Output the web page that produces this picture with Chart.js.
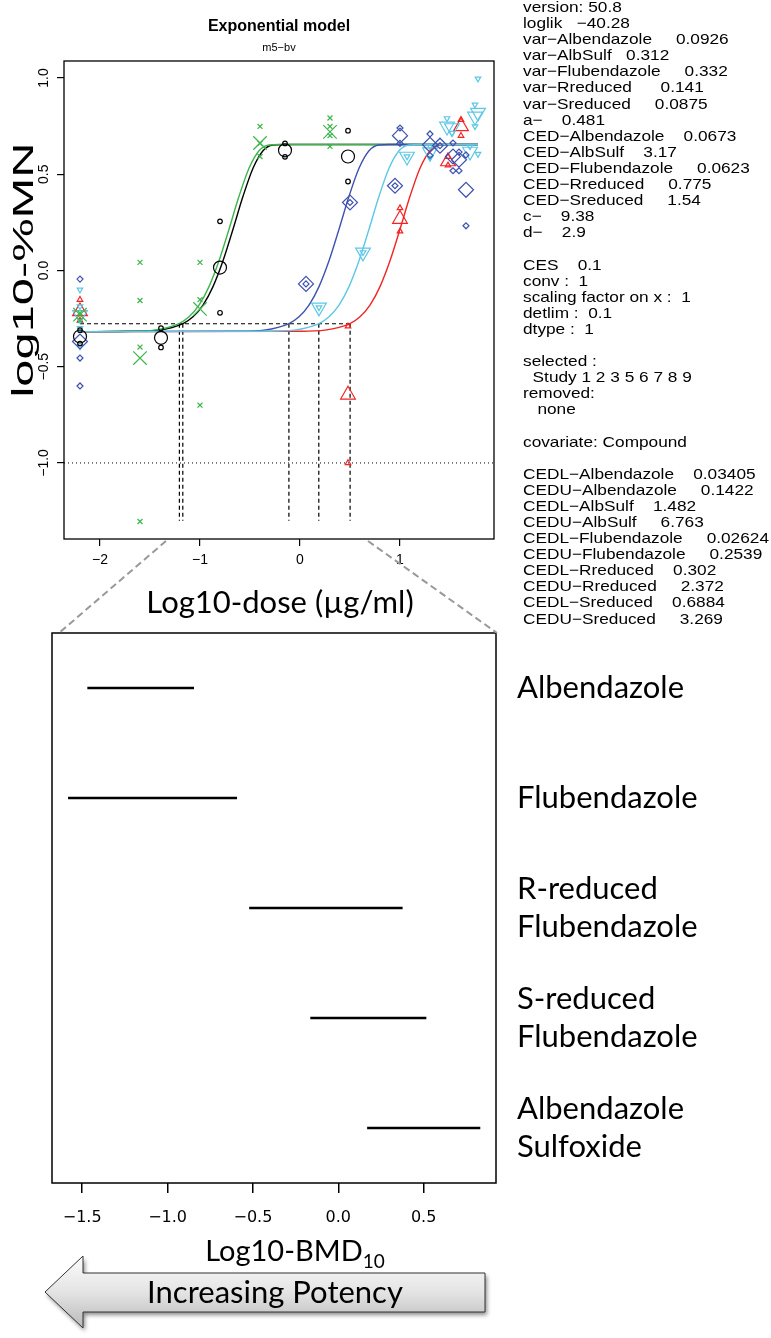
<!DOCTYPE html>
<html>
<head>
<meta charset="utf-8">
<script src="https://cdn.jsdelivr.net/npm/chart.js@4.4.1/dist/chart.umd.min.js"></script>
<style>
  html, body { margin: 0; padding: 0; background: #fff; }
  body { width: 771px; height: 1338px; position: relative; overflow: hidden; }
  #doseCanvas { position: absolute; left: 0; top: 0; }
  #bmdCanvas { position: absolute; left: 0; top: 600px; }
  #info {
    position: absolute; left: 523px; top: -1px;
    font: 15px "Liberation Sans", Arial, sans-serif; line-height: 16.1px;
    white-space: pre; color: #000;
    transform: scaleX(1.15); transform-origin: 0 0;
  }
  #links { position: absolute; left: 0; top: 0; pointer-events: none; }
</style>
</head>
<body>
<canvas id="doseCanvas" width="515" height="625"></canvas>
<canvas id="bmdCanvas" width="771" height="738"></canvas>
<div id="info"></div>
<svg id="links" width="771" height="1338">
  <line x1="166" y1="541" x2="59" y2="633" stroke="#999" stroke-width="2" stroke-dasharray="7 4"/>
  <line x1="368" y1="541" x2="497" y2="633" stroke="#999" stroke-width="2" stroke-dasharray="7 4"/>
</svg>
<script>
// ---- top panel: dose-response (log10 dose vs log10 %MN) ----
const xTicks = [-2, -1, 0, 1];
const xTickLabels = ["\u22122", "\u22121", "0", "1"];
const yTicks = [-1, -0.5, 0, 0.5, 1];
const yTickLabels = ["\u22121.0", "\u22120.5", "0.0", "0.5", "1.0"];

// Albendazole (black circles)
const albDose = [-2.2, -1.39, -0.8, -0.15, 0.48];
const albMean = [-0.343, -0.35, 0.015, 0.624, 0.592];
const albObs = [[-0.31, -0.38], [-0.30, -0.40], [0.255, -0.22], [0.66, 0.59], [0.726, 0.462]];
// Flubendazole (green crosses)
const flubDose = [-2.2, -1.6, -1.0, -0.4, 0.3];
const flubMean = [-0.23, -0.455, -0.20, 0.662, 0.72];
const flubObs = [[-0.22, -0.26], [0.042, -0.156, -0.398, -1.304], [0.042, -0.152, -0.70], [0.748, 0.66, 0.592], [0.792, 0.748, 0.70, 0.644]];
// R-reduced (blue diamonds)
const rredDose = [-2.2, 0.06, 0.5, 0.95, 1.0, 1.30, 1.40, 1.53, 1.59, 1.66];
const rredMean = [-0.369, -0.07, 0.353, 0.44, 0.70, 0.653, 0.648, 0.592, 0.575, 0.419];
const rredObs = [[-0.045, -0.455, -0.60], [-0.07], [0.353], [0.44], [0.74, 0.66], [0.709, 0.597], [0.648], [0.662, 0.518], [0.615, 0.518], [0.60, 0.232]];
// S-reduced (cyan down triangles)
const sredDose = [-2.2, 0.19, 0.63, 1.07, 1.30, 1.47, 1.52, 1.70, 1.75, 1.78];
const sredMean = [-0.23, -0.192, 0.094, 0.592, 0.615, 0.748, 0.74, 0.618, 0.80, 0.82];
const sredObs = [[-0.10, -0.187, -0.30, -0.395], [-0.192], [0.094], [0.592], [0.584, 0.645], [0.79], [0.714], [0.644], [0.861, 0.748], [0.996, 0.605]];
// Albendazole sulfoxide (red up triangles)
const sulfDose = [-2.2, 0.48, 1.0, 1.48, 1.61];
const sulfMean = [-0.213, -0.646, 0.267, 0.566, 0.748];
const sulfObs = [[-0.152, -0.26], [-0.29, -1.0], [0.324, 0.203], [0.546, 0.59], [0.783, 0.70]];

// fitted curves
const curveY = [-0.318, -0.316, -0.310, -0.276, -0.241, -0.180, -0.084, 0.050, 0.214, 0.385, 0.531, 0.622, 0.652, 0.654, 0.654];
const albCurveX = [-2.2, -1.67, -1.42, -1.17, -1.07, -0.97, -0.87, -0.77, -0.67, -0.57, -0.47, -0.37, -0.27, -0.17, 1.78];
const flubCurveX = [-2.2, -1.71, -1.46, -1.21, -1.11, -1.01, -0.91, -0.81, -0.71, -0.61, -0.51, -0.41, -0.31, -0.21, 1.78];
const rredCurveX = [-2.2, -0.61, -0.36, -0.11, -0.01, 0.09, 0.19, 0.29, 0.39, 0.49, 0.59, 0.69, 0.79, 0.89, 1.78];
const sredCurveX = [-2.2, -0.31, -0.06, 0.19, 0.29, 0.39, 0.49, 0.59, 0.69, 0.79, 0.89, 0.99, 1.09, 1.19, 1.78];
const sulfCurveX = [-2.2, 0.0, 0.25, 0.50, 0.60, 0.70, 0.80, 0.90, 1.00, 1.10, 1.20, 1.30, 1.40, 1.50, 1.78];

// CED markers
const cedLog = [-1.172, 0.501, -1.206, -0.111, 0.188];
const cesLevel = -0.277;
const dropBottom = -1.30;
const detLevel = -1.0;

// ---- bottom panel: BMD intervals ----
const compounds = [["Albendazole"], ["Flubendazole"], ["R-reduced", "Flubendazole"], ["S-reduced", "Flubendazole"], ["Albendazole", "Sulfoxide"]];
const bmdLow = [-1.468, -1.581, -0.520, -0.162, 0.171];
const bmdHigh = [-0.847, -0.595, 0.375, 0.514, 0.830];
const bmdTicks = [-1.5, -1.0, -0.5, 0.0, 0.5];
const bmdTickLabels = ["\u22121.5", "\u22121.0", "\u22120.5", "0.0", "0.5"];

const modelInfo = [
  "version: 50.8",
  "loglik   \u221240.28",
  "var\u2212Albendazole     0.0926",
  "var\u2212AlbSulf   0.312",
  "var\u2212Flubendazole     0.332",
  "var\u2212Rreduced      0.141",
  "var\u2212Sreduced     0.0875",
  "a\u2212    0.481",
  "CED\u2212Albendazole    0.0673",
  "CED\u2212AlbSulf    3.17",
  "CED\u2212Flubendazole     0.0623",
  "CED\u2212Rreduced     0.775",
  "CED\u2212Sreduced     1.54",
  "c\u2212    9.38",
  "d\u2212    2.9",
  "",
  "CES    0.1",
  "conv :  1",
  "scaling factor on x :  1",
  "detlim :  0.1",
  "dtype :  1",
  "",
  "selected :",
  "  Study 1 2 3 5 6 7 8 9",
  "removed:",
  "   none",
  "",
  "covariate: Compound",
  "",
  "CEDL\u2212Albendazole    0.03405",
  "CEDU\u2212Albendazole     0.1422",
  "CEDL\u2212AlbSulf    1.482",
  "CEDU\u2212AlbSulf     6.763",
  "CEDL\u2212Flubendazole     0.02624",
  "CEDU\u2212Flubendazole     0.2539",
  "CEDL\u2212Rreduced    0.302",
  "CEDU\u2212Rreduced     2.372",
  "CEDL\u2212Sreduced    0.6884",
  "CEDU\u2212Sreduced     3.269"
];
document.getElementById("info").textContent = modelInfo.join("\n");

const BLACK = "#000000", GREEN = "#3cb54b", BLUE = "#3f51b0", CYAN = "#5cc8e6", RED = "#f22424";

function obsPoints(dose, obs) {
  return dose.flatMap((d, i) => obs[i].map(v => ({ x: d, y: v })));
}
function meanPoints(dose, mean) {
  return dose.map((d, i) => ({ x: d, y: mean[i] }));
}
function curvePoints(xs) {
  return xs.map((x, i) => ({ x: x, y: curveY[i] }));
}
function curve(xs, color, order) {
  return { type: "line", data: curvePoints(xs), borderColor: color, borderWidth: 1.4,
    pointRadius: 0, fill: false, cubicInterpolationMode: "monotone", order: order };
}
function marks(data, color, style, r, rot) {
  return { type: "scatter", data: data, pointStyle: style, pointRadius: r, pointRotation: rot || 0,
    pointBorderColor: color, pointBackgroundColor: "rgba(0,0,0,0)", pointBorderWidth: 1.2,
    showLine: false, order: 0 };
}

const doseDecor = {
  id: "doseDecor",
  afterDraw(chart) {
    const { ctx, chartArea: a, scales } = chart;
    ctx.save();
    ctx.strokeStyle = "#000"; ctx.lineWidth = 1.3;
    ctx.strokeRect(a.left, a.top, a.right - a.left, a.bottom - a.top);
    ctx.fillStyle = "#000";
    ctx.textAlign = "center"; ctx.textBaseline = "middle";
    const cx = (a.left + a.right) / 2;
    ctx.font = 'bold 16px "Liberation Sans"';
    ctx.fillText("Exponential model", cx, 27);
    ctx.font = '11px "Liberation Sans"';
    ctx.fillText("m5\u2212bv", cx, 48);
    // y tick labels, rotated like R
    ctx.font = '14px "Liberation Sans"';
    scales.y.ticks.forEach((t, i) => {
      ctx.save();
      ctx.translate(44, scales.y.getPixelForValue(t.value));
      ctx.rotate(-Math.PI / 2);
      ctx.fillText(yTickLabels[i], 0, 0);
      ctx.restore();
    });
    // axis titles
    ctx.save();
    ctx.translate(25, 270);
    ctx.rotate(-Math.PI / 2);
    ctx.font = '30px "Liberation Sans"';
    const w = ctx.measureText("log10-%MN").width;
    ctx.scale(255 / w, 1);
    ctx.fillText("log10-%MN", 0, 0);
    ctx.restore();
    ctx.font = '31px Lato';
    ctx.fillText("Log10-dose (\u00b5g/ml)", 280, 603);
    ctx.restore();
  }
};

new Chart(document.getElementById("doseCanvas"), {
  type: "scatter",
  data: {
    datasets: [
      marks(obsPoints(albDose, albObs), BLACK, "circle", 2.3),
      marks(meanPoints(albDose, albMean), BLACK, "circle", 6.5),
      marks(obsPoints(flubDose, flubObs), GREEN, "crossRot", 3.5),
      marks(meanPoints(flubDose, flubMean), GREEN, "crossRot", 9.5),
      marks(obsPoints(rredDose, rredObs), BLUE, "rectRot", 3),
      marks(meanPoints(rredDose, rredMean), BLUE, "rectRot", 7.5),
      marks(obsPoints(sredDose, sredObs), CYAN, "triangle", 3.2, 180),
      marks(meanPoints(sredDose, sredMean), CYAN, "triangle", 8.5, 180),
      marks(obsPoints(sulfDose, sulfObs), RED, "triangle", 3.2),
      marks(meanPoints(sulfDose, sulfMean), RED, "triangle", 8.5),
      curve(sredCurveX, CYAN, 1),
      curve(rredCurveX, BLUE, 2),
      curve(flubCurveX, GREEN, 3),
      curve(sulfCurveX, RED, 4),
      curve(albCurveX, BLACK, 5),
      { type: "line", data: [{ x: -2.2, y: cesLevel }, { x: Math.max(...cedLog), y: cesLevel }],
        borderColor: "#000", borderWidth: 1.2, borderDash: [4, 3], pointRadius: 0, order: 6 },
      { type: "line", data: cedLog.flatMap(c => [{ x: c, y: cesLevel }, { x: c, y: dropBottom }, { x: c, y: null }]),
        borderColor: "#000", borderWidth: 1.2, borderDash: [4, 3], pointRadius: 0, spanGaps: false, order: 6 },
      { type: "line", data: [{ x: -2.36, y: detLevel }, { x: 1.94, y: detLevel }],
        borderColor: "#000", borderWidth: 1, borderDash: [1, 3], pointRadius: 0, order: 6 }
    ]
  },
  options: {
    responsive: false, animation: false,
    layout: { padding: { left: 0, right: 21, top: 61, bottom: 0 } },
    plugins: { legend: { display: false }, tooltip: { enabled: false } },
    scales: {
      x: {
        type: "linear", min: -2.36, max: 1.94,
        afterBuildTicks: s => { s.ticks = xTicks.map(v => ({ value: v })); },
        afterFit: s => { s.height = 86; },
        grid: { drawOnChartArea: false, tickLength: 7, color: "#000", lineWidth: 1.2 },
        border: { display: false },
        ticks: { color: "#000", font: { family: "Liberation Sans", size: 14 }, padding: 6,
          callback: (v, i) => xTickLabels[i] }
      },
      y: {
        type: "linear", min: -1.395, max: 1.088,
        afterBuildTicks: s => { s.ticks = yTicks.map(v => ({ value: v })); },
        afterFit: s => { s.width = 64; },
        grid: { drawOnChartArea: false, tickLength: 7, color: "#000", lineWidth: 1.2 },
        border: { display: false },
        ticks: { display: false }
      }
    }
  },
  plugins: [doseDecor]
});

// ---- bottom chart ----
const bmdDecor = {
  id: "bmdDecor",
  afterDraw(chart) {
    const { ctx, chartArea: a } = chart;
    ctx.save();
    ctx.strokeStyle = "#000"; ctx.lineWidth = 1.5;
    ctx.strokeRect(a.left, a.top, a.right - a.left, a.bottom - a.top);
    // axis title with subscript
    ctx.fillStyle = "#000";
    ctx.textBaseline = "middle"; ctx.textAlign = "left";
    ctx.font = '29px Lato';
    const main = "Log10-BMD";
    const mw = ctx.measureText(main).width;
    ctx.font = '19px Lato';
    const sw = ctx.measureText("10").width;
    const x0 = 295 - (mw + sw) / 2;
    ctx.font = '29px Lato';
    ctx.fillText(main, x0, 652);
    ctx.font = '19px Lato';
    ctx.fillText("10", x0 + mw, 662);
    // potency arrow
    ctx.beginPath();
    ctx.moveTo(45, 692);
    ctx.lineTo(83, 656);
    ctx.lineTo(83, 673);
    ctx.lineTo(485, 673);
    ctx.lineTo(485, 712);
    ctx.lineTo(83, 712);
    ctx.lineTo(83, 728);
    ctx.closePath();
    const g = ctx.createLinearGradient(0, 656, 0, 728);
    g.addColorStop(0, "#fbfbfb");
    g.addColorStop(0.5, "#e4e4e4");
    g.addColorStop(1, "#b9b9b9");
    ctx.shadowColor = "rgba(0,0,0,0.45)";
    ctx.shadowBlur = 4; ctx.shadowOffsetX = 2; ctx.shadowOffsetY = 3;
    ctx.fillStyle = g;
    ctx.fill();
    ctx.shadowColor = "rgba(0,0,0,0)";
    ctx.strokeStyle = "#333"; ctx.lineWidth = 1;
    ctx.stroke();
    ctx.fillStyle = "#000";
    ctx.textAlign = "center";
    ctx.font = '31px Lato';
    ctx.fillText("Increasing Potency", 275, 693);
    ctx.restore();
  }
};

new Chart(document.getElementById("bmdCanvas"), {
  type: "bar",
  data: {
    labels: compounds,
    datasets: [{
      data: bmdLow.map((l, i) => [l, bmdHigh[i]]),
      backgroundColor: "#000", borderWidth: 0, barThickness: 2, borderSkipped: false
    }]
  },
  options: {
    indexAxis: "y",
    responsive: false, animation: false,
    layout: { padding: { left: 52, right: 0, top: 33, bottom: 0 } },
    plugins: { legend: { display: false }, tooltip: { enabled: false } },
    scales: {
      x: {
        type: "linear", min: -1.677, max: 0.924,
        afterBuildTicks: s => { s.ticks = bmdTicks.map(v => ({ value: v })); },
        afterFit: s => { s.height = 155; s.paddingLeft = 0; s.paddingRight = 0; },
        grid: { drawOnChartArea: false, tickLength: 10, color: "#000", lineWidth: 1.5 },
        border: { display: false },
        ticks: { color: "#000", font: { family: "DejaVu Sans", size: 16 }, padding: 15,
          callback: (v, i) => bmdTickLabels[i] }
      },
      y: {
        position: "right",
        afterFit: s => { s.width = 275; s.paddingTop = 0; s.paddingBottom = 0; },
        grid: { display: false, drawTicks: false },
        border: { display: false },
        ticks: { color: "#000", padding: 21, font: { family: "Lato", size: 31, lineHeight: 1.22 } }
      }
    }
  },
  plugins: [bmdDecor]
});
</script>
</body>
</html>
